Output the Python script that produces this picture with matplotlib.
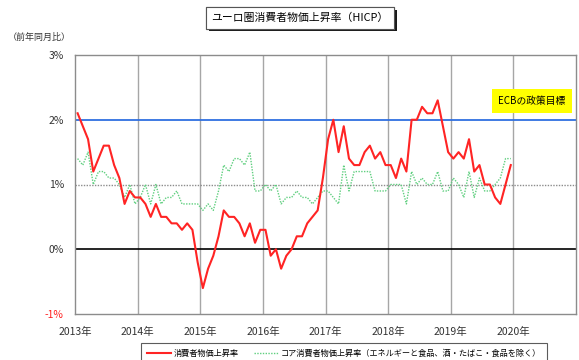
import numpy as np
import matplotlib
matplotlib.use('Agg')
import matplotlib.pyplot as plt
import matplotlib.patheffects as pe

plt.rcParams['font.family'] = ['Noto Sans CJK JP', 'DejaVu Sans']

# monthly data, Jan 2013 - Dec 2019 (%, y/y)
hicp = [2.1, 1.9, 1.7, 1.2, 1.4, 1.6, 1.6, 1.3, 1.1, 0.7, 0.9, 0.8,
        0.8, 0.7, 0.5, 0.7, 0.5, 0.5, 0.4, 0.4, 0.3, 0.4, 0.3, -0.2,
        -0.6, -0.3, -0.1, 0.2, 0.6, 0.5, 0.5, 0.4, 0.2, 0.4, 0.1, 0.3,
        0.3, -0.1, 0.0, -0.3, -0.1, 0.0, 0.2, 0.2, 0.4, 0.5, 0.6, 1.1,
        1.7, 2.0, 1.5, 1.9, 1.4, 1.3, 1.3, 1.5, 1.6, 1.4, 1.5, 1.3,
        1.3, 1.1, 1.4, 1.2, 2.0, 2.0, 2.2, 2.1, 2.1, 2.3, 1.9, 1.5,
        1.4, 1.5, 1.4, 1.7, 1.2, 1.3, 1.0, 1.0, 0.8, 0.7, 1.0, 1.3]
core = [1.4, 1.3, 1.5, 1.0, 1.2, 1.2, 1.1, 1.1, 1.0, 0.8, 1.0, 0.7,
        0.8, 1.0, 0.7, 1.0, 0.7, 0.8, 0.8, 0.9, 0.7, 0.7, 0.7, 0.7,
        0.6, 0.7, 0.6, 0.9, 1.3, 1.2, 1.4, 1.4, 1.3, 1.5, 0.9, 0.9,
        1.0, 0.9, 1.0, 0.7, 0.8, 0.8, 0.9, 0.8, 0.8, 0.7, 0.8, 0.9,
        0.9, 0.8, 0.7, 1.3, 0.9, 1.2, 1.2, 1.2, 1.2, 0.9, 0.9, 0.9,
        1.0, 1.0, 1.0, 0.7, 1.2, 1.0, 1.1, 1.0, 1.0, 1.2, 0.9, 0.9,
        1.1, 1.0, 0.8, 1.2, 0.8, 1.1, 0.9, 0.9, 1.0, 1.1, 1.4, 1.4]
start_year = 2013
years = list(range(2013, 2021))
year_labels = [f'{y}年' for y in years]
ecb_target = 2.0

x = start_year + (np.arange(len(hicp)) + 0.5) / 12

fig = plt.figure(figsize=(5.79, 3.6), dpi=100)
ax = fig.add_axes([75/579, 46/360, 501/579, 259/360])

ax.set_xlim(2013, 2021); ax.set_ylim(-1, 3)
for y in range(2014, 2021):
    ax.axvline(y, color='#a6a6a6', lw=1.0, zorder=1)
ax.axhline(1, color='#8c8c8c', lw=1.0, ls=(0, (1, 1)), zorder=1)
ax.axhline(0, color='black', lw=1.2, zorder=2)
ax.axhline(ecb_target, color='#2f6fe0', lw=1.3, zorder=2)

ax.plot(x, core, color='#5fcf7f', lw=1.0, ls=(0, (1, 1)), zorder=3, label='コア消費者物価上昇率（エネルギーと食品、酒・たばこ・食品を除く）')
ax.plot(x, hicp, color='#ff2424', lw=1.5, zorder=4, label='消費者物価上昇率')

for s in ax.spines.values():
    s.set_color('#8c8c8c'); s.set_linewidth(1.0)

ax.set_yticks([-1, 0, 1, 2, 3])
ax.set_yticklabels(['-1%', '0%', '1%', '2%', '3%'], fontsize=7.5, color='#333333')
ax.get_yticklabels()[0].set_color('#ff2020')
ax.set_xticks(years)
ax.set_xticklabels(year_labels, fontsize=7.5, color='#333333')
ax.tick_params(length=0, pad=8)
ax.tick_params(axis='x', pad=9)

# title with drop shadow
t = fig.text(300/579, 1-18/360, 'ユーロ圏消費者物価上昇率（HICP）', ha='center', va='center', fontsize=7.8,
             bbox=dict(boxstyle='square,pad=0.5', fc='white', ec='#555555', lw=0.8))
t.get_bbox_patch().set_path_effects([pe.withSimplePatchShadow(offset=(2, -2), shadow_rgbFace='black', alpha=0.9), pe.Normal()])
fig.text(8/579, 1-37/360, '（前年同月比）', ha='left', va='center', fontsize=6.5, color='#333333')

# ECB target label
fig.text(532/579, 1-101/360, 'ECBの政策目標', ha='center', va='center', fontsize=7,
         bbox=dict(boxstyle='square,pad=0.7', fc='#ffff00', ec='none'))

h, l = ax.get_legend_handles_labels()
leg = fig.legend(h[::-1], l[::-1], loc='upper left', bbox_to_anchor=(137/579, 1-339/360), ncol=2, fontsize=5.9,
                 frameon=True, fancybox=False, edgecolor='#333333', handlelength=3.0, columnspacing=1.8,
                 borderpad=0.7, handletextpad=0.3)
leg.get_frame().set_linewidth(0.8)

fig.savefig('out.png', dpi=100)
